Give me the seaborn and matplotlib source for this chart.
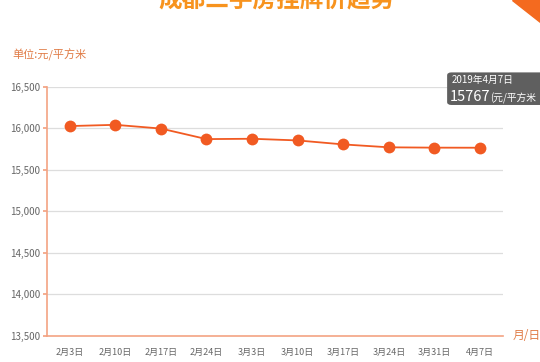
import pandas as pd
import seaborn as sns
import matplotlib.pyplot as plt
from matplotlib.patches import Polygon, FancyBboxPatch

# Dados
datas = ['2月3日', '2月10日', '2月17日', '2月24日', '3月3日',
         '3月10日', '3月17日', '3月24日', '3月31日', '4月7日']
precos = [16028, 16043, 15998, 15871, 15875, 15855, 15807, 15772, 15768, 15767]
y_ticks = [13500, 14000, 14500, 15000, 15500, 16000, 16500]

sns.set_theme(style='white')
plt.rcParams['font.family'] = ['Noto Sans CJK SC', 'DejaVu Sans']

laranja = '#f15a22'
eixo = '#f3a383'

fig = plt.figure(figsize=(5.4, 3.62), dpi=100)
ax = fig.add_axes([0.087, 0.072, 0.844, 0.688])

df = pd.DataFrame({'data': datas, 'preco': precos})
df['pos'] = range(len(df))
sns.lineplot(data=df, x='pos', y='preco', ax=ax, color=laranja, linewidth=1.3,
             marker='o', markersize=8.5, markeredgecolor=laranja, markeredgewidth=0)

ax.set_xlim(-0.5, len(datas) - 0.5)
ax.set_ylim(13500, 16500)
ax.set_yticks(y_ticks)
ax.set_yticklabels([f'{v:,}' for v in y_ticks], fontsize=7, color='#666666')
ax.set_xticks(df['pos'])
ax.set_xticklabels(datas, fontsize=6.5, color='#666666')
ax.set_xlabel('')
ax.set_ylabel('')

for v in y_ticks[1:]:
    ax.axhline(v, color='#dddddd', linewidth=0.9, zorder=0)

for s in ['top', 'right']:
    ax.spines[s].set_visible(False)
for s in ['left', 'bottom']:
    ax.spines[s].set_color(eixo)
    ax.spines[s].set_linewidth(1.2)
ax.tick_params(axis='y', left=True, length=3, color=eixo, pad=2)
ax.tick_params(axis='x', bottom=False, pad=3)

# Título (cortado no topo, como na imagem)
fig.text(0.512, 1.0, '成都二手房挂牌价趋势', ha='center', va='center',
         fontsize=17, fontweight='bold', color='#f7931e')
fig.text(0.022, 0.848, '单位:元/平方米', ha='left', va='center', fontsize=8, color='#e07b45')
fig.text(0.949, 0.072, '月/日', ha='left', va='center', fontsize=8.5, color='#e07b45')

# Faixa laranja no canto
fig.patches.append(Polygon([[0.948, 1.0], [1.0, 1.0], [1.0, 0.94]], closed=True,
                           transform=fig.transFigure, color='#f46a1f'))

# Tooltip
fig.patches.append(FancyBboxPatch((0.828, 0.71), 0.2, 0.09, boxstyle='round,pad=0,rounding_size=0.008',
                                  transform=fig.transFigure, facecolor='#5f5f5f', edgecolor='none'))
fig.text(0.836, 0.78, '2019年4月7日', ha='left', va='center', fontsize=7, color='white')
fig.text(0.833, 0.733, str(precos[-1]), ha='left', va='center', fontsize=10.5,
         fontweight='medium', color='white')
fig.text(0.907, 0.729, '(元/平方米', ha='left', va='center', fontsize=7, color='white')

fig.savefig('out.png', dpi=100)
